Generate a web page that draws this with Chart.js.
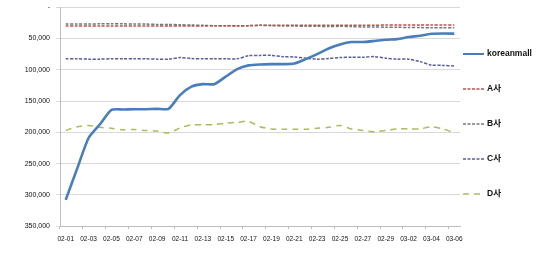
<!DOCTYPE html>
<html>
<head>
<meta charset="utf-8">
<script src="https://cdn.jsdelivr.net/npm/chart.js@4.4.1/dist/chart.umd.min.js"></script>
<style>
  html, body { margin: 0; padding: 0; background: #fff; overflow: hidden; }
  #wrap { width: 540px; height: 255px; overflow: hidden; }
  #rankChart { display: block; margin-top: -3px; }
</style>
</head>
<body>
<div id="wrap"><canvas id="rankChart" width="540" height="258"></canvas></div>
<script>
const days = ['02-01','02-02','02-03','02-04','02-05','02-06','02-07','02-08','02-09','02-10',
  '02-11','02-12','02-13','02-14','02-15','02-16','02-17','02-18','02-19','02-20',
  '02-21','02-22','02-23','02-24','02-25','02-26','02-27','02-28','02-29',
  '03-01','03-02','03-03','03-04','03-05','03-06'];

const koreanmall = [308000,258000,209000,187000,164000,163500,163000,163000,162500,162500,
  140500,127000,123000,123000,111000,99000,93000,91500,91000,91000,
  90000,83000,75000,66000,59500,55700,55700,54000,52000,
  51000,47700,45600,42500,42000,42300];
const compA = [30000,30000,30000,30000,30000,30000,30000,30000,30000,30000,
  30000,30000,30000,29500,29500,29500,29500,29000,29000,29000,
  29000,29000,29000,29000,28800,28800,28800,28800,28500,
  28500,28500,28500,28500,28500,28500];
const compB = [27000,27000,27000,26500,26500,26500,27000,27000,27500,27500,
  28000,28500,29000,29500,29500,30000,29500,29000,29500,30000,
  30000,30500,30500,31000,30500,31000,31500,31500,32000,
  32000,32500,32500,33000,33000,33000];
const compC = [82500,82500,83000,83000,82500,82500,82500,82500,83000,83000,
  80500,82000,82500,82500,82500,82500,77500,77000,77000,79000,
  79500,81500,83000,82000,80500,80000,80000,79000,81500,
  83000,83000,87000,92500,93000,94000];
const compD = [197000,191000,189000,192000,193500,196000,195500,197000,198000,201000,
  193000,188000,188000,187500,185500,184000,182500,191000,194500,195000,
  195000,195000,193500,192000,189000,194500,197000,199000,197000,
  194500,194500,194500,191000,194500,201000];

const seriesNames = ['koreanmall', 'A사', 'B사', 'C사', 'D사'];
const yTicks = [0, 50000, 100000, 150000, 200000, 250000, 300000, 350000];

const fontFamily = '"Liberation Sans", "Noto Sans CJK KR", sans-serif';

// legend drawn at the right, one row per series
const sideLegend = {
  id: 'sideLegend',
  afterDraw(chart) {
    const ctx = chart.ctx;
    const x0 = chart.chartArea.right + 3;
    chart.data.datasets.forEach((ds, i) => {
      const y = 127 + (i - 2) * 35;
      ctx.save();
      ctx.strokeStyle = ds.borderColor;
      ctx.lineWidth = i === 0 ? 2 : 1.5;
      ctx.setLineDash(ds.borderDash || []);
      ctx.beginPath();
      ctx.moveTo(x0, y);
      ctx.lineTo(x0 + 21, y);
      ctx.stroke();
      ctx.setLineDash([]);
      ctx.fillStyle = '#111';
      ctx.font = 'bold 8.5px ' + fontFamily;
      ctx.textBaseline = 'middle';
      ctx.fillText(ds.label, x0 + 24, y);
      ctx.restore();
    });
  }
};

const ctxChart = document.getElementById('rankChart').getContext('2d');
new Chart(ctxChart, {
  type: 'line',
  data: {
    labels: days,
    datasets: [
      { label: seriesNames[0], data: koreanmall, borderColor: '#4a7ebb', borderWidth: 2.6, tension: 0.2 },
      { label: seriesNames[1], data: compA, borderColor: '#c0504d', borderWidth: 1.5, borderDash: [3, 1.5], tension: 0.25 },
      { label: seriesNames[2], data: compB, borderColor: '#7a7580', borderWidth: 1.5, borderDash: [3, 1.5], tension: 0.25 },
      { label: seriesNames[3], data: compC, borderColor: '#5b5b9e', borderWidth: 1.5, borderDash: [3, 1.5], tension: 0.25 },
      { label: seriesNames[4], data: compD, borderColor: '#a9bc5e', borderWidth: 1.5, borderDash: [6, 5], tension: 0.25 }
    ]
  },
  options: {
    responsive: false,
    animation: false,
    elements: { point: { radius: 0 } },
    layout: { padding: { top: 0, right: 80, bottom: 6, left: 0 } },
    plugins: {
      legend: { display: false },
      tooltip: { enabled: false }
    },
    scales: {
      x: {
        offset: true,
        border: { color: '#bdbdbd' },
        grid: {
          offset: true,
          drawOnChartArea: false,
          tickLength: 3,
          color: (c) => (c.index % 2 === 0 ? '#bdbdbd' : 'rgba(0,0,0,0)')
        },
        ticks: {
          autoSkip: false,
          maxRotation: 0,
          padding: 6,
          color: '#111',
          font: { family: fontFamily, size: 6.5 },
          callback: (v, i) => (i % 2 === 0 ? days[i] : '')
        }
      },
      y: {
        reverse: true,
        min: 0,
        max: 350000,
        afterFit: (scale) => { scale.width = 60; },
        afterBuildTicks: (scale) => { scale.ticks = yTicks.map(v => ({ value: v })); },
        border: { color: '#bdbdbd' },
        grid: { color: '#d9d9d9', tickLength: 4 },
        ticks: {
          padding: 6,
          color: '#111',
          font: { family: fontFamily, size: 7 },
          callback: (v) => (v === 0 ? '-' : v.toLocaleString('en-US'))
        }
      }
    }
  },
  plugins: [sideLegend]
});
</script>
</body>
</html>
